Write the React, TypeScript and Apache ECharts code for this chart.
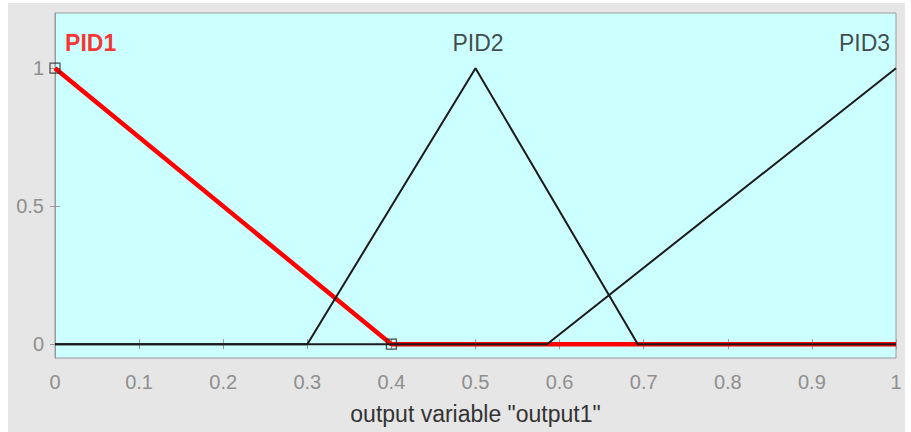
import React, { useEffect, useRef } from "react";
import * as echarts from "echarts";

const xTicks = [0, 0.1, 0.2, 0.3, 0.4, 0.5, 0.6, 0.7, 0.8, 0.9, 1];
const yTicks = [0, 0.5, 1];

const pid1X = [0, 0.4, 1];
const pid1Y = [1, 0, 0];
const pid2X = [0, 0.3, 0.5, 0.693, 1];
const pid2Y = [0, 0, 1, 0, 0];
const pid3X = [0, 0.585, 1];
const pid3Y = [0, 0, 1];
const markerX = [0, 0.4];
const markerY = [1, 0];

const mfNames = ["PID1", "PID2", "PID3"];
const labelX = [0.012, 0.503, 0.993];
const labelY = [1.09, 1.09, 1.09];

const xName = 'output variable "output1"';

const zip = (xs: number[], ys: number[]) => xs.map((x, i) => [x, ys[i]]);

const FONT = "'Liberation Sans', Arial, Helvetica, sans-serif";

export default function App() {
  const ref = useRef<HTMLDivElement>(null);
  useEffect(() => {
    if (!ref.current) return;
    const chart = echarts.init(ref.current, undefined, { renderer: "svg" });
    const labelAligns = ["left", "center", "right"];
    chart.setOption({
      animation: false,
      backgroundColor: "#ffffff",
      textStyle: { fontFamily: FONT },
      graphic: [
        {
          type: "rect",
          z: -10,
          silent: true,
          shape: { x: 8, y: 3, width: 897, height: 429 },
          style: { fill: "#e6e6e6" },
        },
      ],
      grid: {
        left: 55,
        top: 13,
        right: 15,
        bottom: 74,
        show: true,
        backgroundColor: "#ccffff",
        borderColor: "#9a9a9a",
        borderWidth: 1,
      },
      xAxis: [
        {
          type: "value",
          min: 0,
          max: 1,
          interval: 0.1,
          position: "bottom",
          axisLine: { show: true, lineStyle: { color: "#9a9a9a" } },
          axisTick: { show: true, inside: true, length: 5, lineStyle: { color: "#9a9a9a" } },
          axisLabel: {
            color: "#8f8f8f",
            fontSize: 20,
            margin: 14,
            fontFamily: FONT,
            customValues: xTicks,
            formatter: (v: number) => String(Math.round(v * 10) / 10),
          },
          splitLine: { show: false },
          name: xName,
          nameLocation: "middle",
          nameGap: 44,
          nameTextStyle: { color: "#333333", fontSize: 23, fontFamily: FONT },
        },
        {
          type: "value",
          min: 0,
          max: 1,
          interval: 0.1,
          position: "top",
          axisLine: { show: false },
          axisTick: { show: true, inside: true, length: 5, lineStyle: { color: "#9a9a9a" } },
          axisLabel: { show: false },
          splitLine: { show: false },
        },
      ],
      yAxis: [
        {
          type: "value",
          min: -0.05,
          max: 1.2,
          position: "left",
          axisLine: { show: true, lineStyle: { color: "#9a9a9a" } },
          axisTick: {
            show: true,
            inside: true,
            length: 5,
            customValues: yTicks,
            lineStyle: { color: "#9a9a9a" },
          },
          axisLabel: {
            color: "#8f8f8f",
            fontSize: 20,
            margin: 11,
            fontFamily: FONT,
            customValues: yTicks,
          },
          splitLine: { show: false },
        },
        {
          type: "value",
          min: -0.05,
          max: 1.2,
          position: "right",
          axisLine: { show: false },
          axisTick: {
            show: true,
            inside: true,
            length: 5,
            customValues: yTicks,
            lineStyle: { color: "#9a9a9a" },
          },
          axisLabel: { show: false, customValues: yTicks },
          splitLine: { show: false },
        },
      ],
      series: [
        {
          type: "line",
          name: "PID1",
          data: zip(pid1X, pid1Y),
          symbol: "none",
          lineStyle: { color: "#ff0000", width: 4.5 },
          z: 2,
        },
        {
          type: "line",
          name: "PID2",
          data: zip(pid2X, pid2Y),
          symbol: "none",
          lineStyle: { color: "#1a1a1a", width: 2 },
          z: 3,
        },
        {
          type: "line",
          name: "PID3",
          data: zip(pid3X, pid3Y),
          symbol: "none",
          lineStyle: { color: "#1a1a1a", width: 2 },
          z: 3,
        },
        {
          type: "scatter",
          name: "markers",
          data: zip(markerX, markerY),
          symbol: "rect",
          symbolSize: 10,
          itemStyle: { color: "rgba(0,0,0,0)", borderColor: "#222222", borderWidth: 1.2 },
          z: 4,
        },
        {
          type: "scatter",
          name: "labels",
          symbolSize: 0,
          z: 5,
          data: mfNames.map((n, i) => ({
            name: n,
            value: [labelX[i], labelY[i]],
            label: {
              show: true,
              position: "inside",
              formatter: n,
              align: labelAligns[i],
              verticalAlign: "middle",
              fontSize: 23,
              fontFamily: FONT,
              fontWeight: i === 0 ? "bold" : "normal",
              color: i === 0 ? "#ff0000" : "#1a1a1a",
            },
          })),
        },
      ],
    });
    return () => chart.dispose();
  }, []);
  return (
    <div
      ref={ref}
      style={{ position: "fixed", left: 0, top: 0, width: 911, height: 432 }}
    />
  );
}
